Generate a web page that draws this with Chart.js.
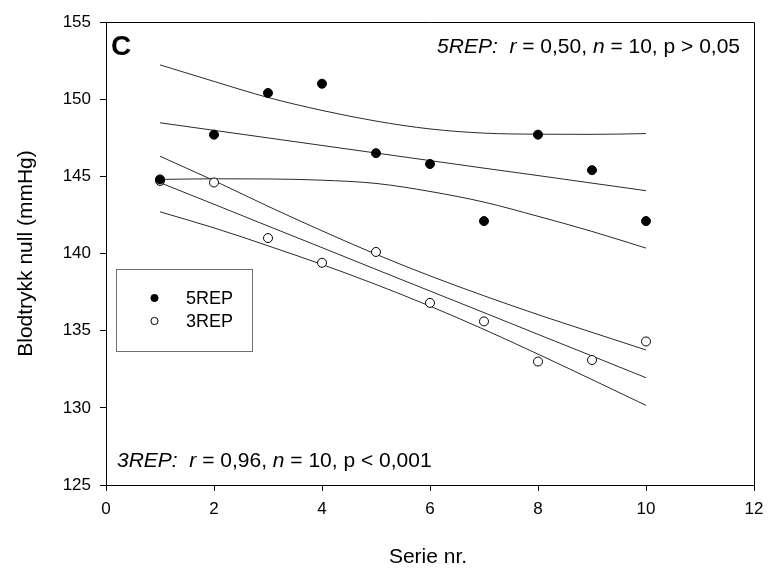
<!DOCTYPE html>
<html><head><meta charset="utf-8">
<script src="https://cdn.jsdelivr.net/npm/chart.js@4/dist/chart.umd.min.js"></script>
<style>html,body{margin:0;padding:0;background:#fff}#wrap{width:772px;height:568px}</style>
</head><body><div id="wrap"><canvas id="c" width="772" height="568"></canvas></div>
<script>
// ---- data ----
const serieNr = [1, 2, 3, 4, 5, 6, 7, 8, 9, 10];
const rep5 = [144.8, 147.7, 150.4, 151.0, 146.5, 145.8, 142.1, 147.7, 145.4, 142.1];
const rep3 = [144.7, 144.6, 141.0, 139.4, 140.1, 136.8, 135.6, 133.0, 133.1, 134.3];
// regression lines and confidence bands (at each x)
const rep5Fit   = [148.47, 147.98, 147.49, 147.00, 146.51, 146.02, 145.53, 145.05, 144.56, 144.07];
const rep5Upper = [152.22, 151.15, 150.11, 149.27, 148.58, 148.07, 147.80, 147.73, 147.72, 147.77];
const rep5Lower = [144.80, 144.84, 144.83, 144.75, 144.54, 144.02, 143.33, 142.41, 141.43, 140.35];
const rep3Fit   = [144.59, 143.19, 141.78, 140.38, 138.97, 137.57, 136.17, 134.76, 133.36, 131.95];
const rep3Upper = [146.30, 144.72, 143.06, 141.47, 139.95, 138.55, 137.26, 136.04, 134.89, 133.75];
const rep3Lower = [142.70, 141.66, 140.50, 139.29, 137.99, 136.59, 135.08, 133.48, 131.83, 130.16];
const xTickValues = [0, 2, 4, 6, 8, 10, 12];
const yTickValues = [125, 130, 135, 140, 145, 150, 155];
const seriesNames = ['5REP', '3REP'];
const panelLabel = 'C';
const stat5 = [['5REP:', true], ['  ', false], ['r', true], [' = 0,50, ', false], ['n', true], [' = 10, p > 0,05', false]];
const stat3 = [['3REP:', true], ['  ', false], ['r', true], [' = 0,96, ', false], ['n', true], [' = 10, p < 0,001', false]];
const xTitle = 'Serie nr.';
const yTitle = 'Blodtrykk null (mmHg)';

const FONT = '"Liberation Sans", Arial, sans-serif';
const pts = (ys) => serieNr.map((x, i) => ({x, y: ys[i]}));
const lineDs = (ys, tension) => ({
  data: pts(ys), showLine: true, pointRadius: 0, borderColor: '#2a2a2a', borderWidth: 1,
  tension: tension, cubicInterpolationMode: tension ? 'monotone' : 'default', order: 2
});

function drawRich(ctx, parts, x, y, size, align) {
  let total = 0;
  const ws = parts.map(([t, it]) => { ctx.font = (it ? 'italic ' : '') + size + 'px ' + FONT; const w = ctx.measureText(t).width; total += w; return w; });
  let cx = align === 'right' ? x - total : x;
  ctx.textAlign = 'left'; ctx.textBaseline = 'alphabetic';
  parts.forEach(([t, it], i) => { ctx.font = (it ? 'italic ' : '') + size + 'px ' + FONT; ctx.fillText(t, cx, y); cx += ws[i]; });
}

const deco = {
  id: 'deco',
  afterDraw(chart) {
    const ctx = chart.ctx, a = chart.chartArea;
    ctx.save();
    // frame
    ctx.strokeStyle = '#000'; ctx.lineWidth = 1;
    ctx.beginPath();
    ctx.moveTo(a.left, a.top + 0.5); ctx.lineTo(a.right + 0.5, a.top + 0.5); ctx.lineTo(a.right + 0.5, a.bottom);
    ctx.stroke();
    ctx.fillStyle = '#000';
    // panel label
    ctx.font = 'bold 28px ' + FONT; ctx.textAlign = 'left'; ctx.textBaseline = 'alphabetic';
    ctx.fillText(panelLabel, a.left + 5, 55);
    // stats
    drawRich(ctx, stat5, a.right - 14, 53, 21, 'right');
    drawRich(ctx, stat3, a.left + 11, 467, 21, 'left');
    // legend box
    ctx.strokeStyle = '#707070';
    ctx.strokeRect(116.5, 269.5, 136, 82);
    const ds = chart.data.datasets;
    [0, 1].forEach(i => {
      const yy = i === 0 ? 298 : 321;
      ctx.beginPath(); ctx.arc(154.5, yy, 3.6, 0, Math.PI * 2);
      ctx.fillStyle = ds[i].backgroundColor; ctx.fill();
      ctx.strokeStyle = '#000'; ctx.lineWidth = 1; ctx.stroke();
      ctx.fillStyle = '#000'; ctx.font = '18px ' + FONT; ctx.textBaseline = 'middle';
      ctx.fillText(ds[i].label, 186, yy + 1);
    });
    // axis titles
    ctx.font = '21px ' + FONT; ctx.textAlign = 'center'; ctx.textBaseline = 'middle';
    ctx.fillText(xTitle, (a.left + a.right) / 2 - 2, 557);
    ctx.translate(26, (a.top + a.bottom) / 2); ctx.rotate(-Math.PI / 2);
    ctx.fillText(yTitle, 0, 0);
    ctx.restore();
  }
};

new Chart(document.getElementById('c'), {
  type: 'scatter',
  data: {
    datasets: [
      {label: seriesNames[0], data: pts(rep5), backgroundColor: '#000', borderColor: '#000', pointRadius: 4.5, pointHoverRadius: 4.5, order: 0},
      {label: seriesNames[1], data: pts(rep3), backgroundColor: '#fff', borderColor: '#000', borderWidth: 1, pointRadius: 4.5, pointHoverRadius: 4.5, order: 0},
      lineDs(rep5Fit, 0), lineDs(rep5Upper, 0.4), lineDs(rep5Lower, 0.4),
      lineDs(rep3Fit, 0), lineDs(rep3Upper, 0.4), lineDs(rep3Lower, 0.4)
    ]
  },
  options: {
    responsive: false, animation: false, devicePixelRatio: 1,
    layout: {padding: {top: 22, right: 18, left: 0, bottom: 0}},
    plugins: {legend: {display: false}, tooltip: {enabled: false}},
    scales: {
      x: {
        type: 'linear', min: 0, max: 12,
        afterBuildTicks: s => { s.ticks = xTickValues.map(v => ({value: v})); },
        afterFit: s => { s.height = 83; },
        ticks: {color: '#000', font: {family: FONT, size: 17}, padding: 8, maxRotation: 0},
        grid: {drawOnChartArea: false, drawTicks: true, tickLength: 6, color: '#000', lineWidth: 1},
        border: {display: true, color: '#000', width: 1}
      },
      y: {
        min: 125, max: 155,
        afterBuildTicks: s => { s.ticks = yTickValues.map(v => ({value: v})); },
        afterFit: s => { s.width = 106; },
        ticks: {color: '#000', font: {family: FONT, size: 17}, padding: 9},
        grid: {drawOnChartArea: false, drawTicks: true, tickLength: 6, color: '#000', lineWidth: 1},
        border: {display: true, color: '#000', width: 1}
      }
    }
  },
  plugins: [deco]
});
</script></body></html>
